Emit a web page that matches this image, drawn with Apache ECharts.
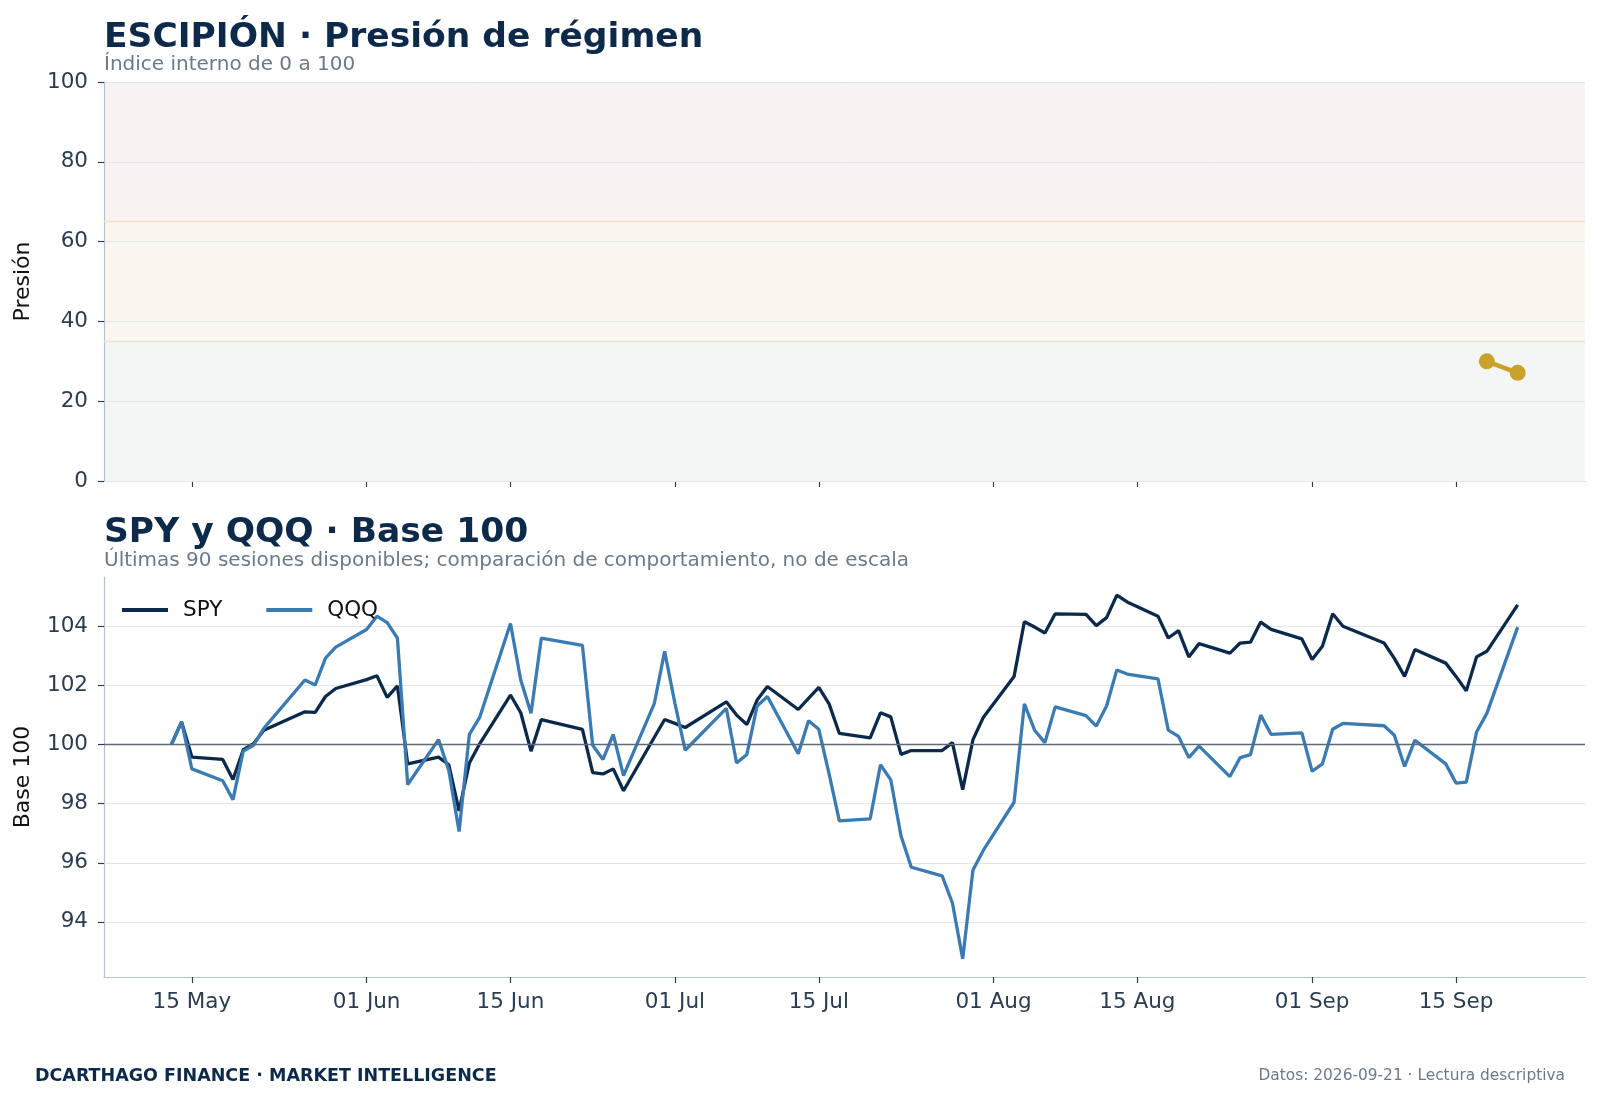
<!DOCTYPE html>
<html>
<head>
<meta charset="utf-8">
<title>ESCIPIÓN · Presión de régimen</title>
<script src="https://cdn.jsdelivr.net/npm/echarts@6/dist/echarts.min.js"></script>
<style>html,body{margin:0;padding:0;background:#fff}</style>
</head>
<body>
<div id="chart" style="width:1600px;height:1101px"></div>
<script>
// sesiones (90)
var sessions = [
  '2026-05-13','2026-05-14','2026-05-15','2026-05-18','2026-05-19','2026-05-20','2026-05-21','2026-05-22','2026-05-26','2026-05-27','2026-05-28','2026-05-29',
  '2026-06-01','2026-06-02','2026-06-03','2026-06-04','2026-06-05','2026-06-08','2026-06-09','2026-06-10','2026-06-11','2026-06-12','2026-06-15','2026-06-16','2026-06-17','2026-06-18','2026-06-22','2026-06-23','2026-06-24','2026-06-25','2026-06-26','2026-06-29','2026-06-30',
  '2026-07-01','2026-07-02','2026-07-06','2026-07-07','2026-07-08','2026-07-09','2026-07-10','2026-07-13','2026-07-14','2026-07-15','2026-07-16','2026-07-17','2026-07-20','2026-07-21','2026-07-22','2026-07-23','2026-07-24','2026-07-27','2026-07-28','2026-07-29','2026-07-30','2026-07-31',
  '2026-08-03','2026-08-04','2026-08-05','2026-08-06','2026-08-07','2026-08-10','2026-08-11','2026-08-12','2026-08-13','2026-08-14','2026-08-17','2026-08-18','2026-08-19','2026-08-20','2026-08-21','2026-08-24','2026-08-25','2026-08-26','2026-08-27','2026-08-28','2026-08-31',
  '2026-09-01','2026-09-02','2026-09-03','2026-09-04','2026-09-08','2026-09-09','2026-09-10','2026-09-11','2026-09-14','2026-09-15','2026-09-16','2026-09-17','2026-09-18','2026-09-21'
];

var spy = [
  100.00, 100.77, 99.58, 99.50, 98.82, 99.83, 100.03, 100.49, 101.11, 101.09, 101.63, 101.90,
  102.20, 102.33, 101.60, 101.99, 99.35, 99.58, 99.32, 97.76, 99.38, 100.03, 101.68, 101.08, 99.78, 100.85, 100.52, 99.05, 99.01, 99.18, 98.44, 100.25, 100.85,
  100.72, 100.58, 101.45, 101.00, 100.68, 101.51, 101.97, 101.19, 101.57, 101.94, 101.38, 100.38, 100.23, 101.08, 100.94, 99.67, 99.80, 99.80, 100.07, 98.48, 100.17, 100.92,
  102.31, 104.16, 103.98, 103.78, 104.43, 104.41, 104.03, 104.30, 105.06, 104.83, 104.35, 103.61, 103.86, 102.97, 103.42, 103.10, 103.44, 103.47, 104.15, 103.90, 103.58,
  102.88, 103.33, 104.43, 104.01, 103.44, 102.92, 102.31, 103.22, 102.76, 102.31, 101.82, 102.97, 103.16, 104.73
];

var qqq = [
  100.00, 100.77, 99.18, 98.78, 98.14, 99.78, 99.98, 100.55, 102.19, 102.02, 102.93, 103.30,
  103.90, 104.35, 104.13, 103.61, 98.65, 100.17, 99.13, 97.06, 100.35, 100.92, 104.10, 102.19, 101.06, 103.61, 103.36, 99.98, 99.50, 100.35, 98.95, 101.40, 103.16,
  101.40, 99.81, 101.23, 99.38, 99.67, 101.31, 101.63, 99.69, 100.81, 100.52, 99.01, 97.42, 97.49, 99.32, 98.81, 96.91, 95.85, 95.56, 94.64, 92.75, 95.76, 96.42,
  98.05, 101.38, 100.49, 100.07, 101.28, 100.98, 100.63, 101.31, 102.53, 102.39, 102.23, 100.49, 100.28, 99.56, 99.95, 98.92, 99.56, 99.66, 101.00, 100.35, 100.40,
  99.10, 99.35, 100.52, 100.72, 100.64, 100.32, 99.26, 100.15, 99.35, 98.70, 98.73, 100.43, 101.06, 103.98
];

// presión de régimen
var pressureDates = ['2026-09-18', '2026-09-21'];
var pressure = [30.0, 27.1];
var zoneLimits = [0, 35, 65, 100];

// ejes
var dateTicks = ['2026-05-15','2026-06-01','2026-06-15','2026-07-01','2026-07-15','2026-08-01','2026-08-15','2026-09-01','2026-09-15'];
var baseTicks = [94, 96, 98, 100, 102, 104];
var monthNames = ['Jan','Feb','Mar','Apr','May','Jun','Jul','Aug','Sep','Oct','Nov','Dec'];

var FONT = '"DejaVu Sans", sans-serif';
var NAVY = '#0d2a4b';
var TICK = '#2b3d52';
var AXIS = '#b5c1ce';
var GRID = '#e0e6ec';
var LBL = 21.5;

function utc(s) {
  var p = s.split('-');
  return Date.UTC(+p[0], +p[1] - 1, +p[2]);
}
function pad2(n) { return n < 10 ? '0' + n : '' + n; }
function fmtDate(v) {
  var d = new Date(v);
  return pad2(d.getUTCDate()) + ' ' + monthNames[d.getUTCMonth()];
}

var t0 = utc(sessions[0]), t1 = utc(sessions[sessions.length - 1]);
var xPad = (t1 - t0) * 0.05;
var allVals = spy.concat(qqq);
var vMin = Math.min.apply(null, allVals), vMax = Math.max.apply(null, allVals);
var yPad = (vMax - vMin) * 0.05;

var tickTimes = dateTicks.map(utc);
var spyData = sessions.map(function (d, i) { return [utc(d), spy[i]]; });
var qqqData = sessions.map(function (d, i) { return [utc(d), qqq[i]]; });
var pressureData = pressureDates.map(function (d, i) { return [utc(d), pressure[i]]; });

var zoneColors = ['#f3f6f5', '#faf7ee', '#f8f2f2'];
var zoneAreas = [];
for (var i = 0; i < zoneLimits.length - 1; i++) {
  zoneAreas.push([{ yAxis: zoneLimits[i], itemStyle: { color: zoneColors[i] } }, { yAxis: zoneLimits[i + 1] }]);
}

var chart = echarts.init(document.getElementById('chart'), null, { renderer: 'canvas' });

// eje de fechas como eje numérico (timestamps UTC) con marcas fijas
function xAxisCfg(idx, showLabels) {
  return {
    type: 'value', gridIndex: idx, scale: true,
    min: t0 - xPad, max: t1 + xPad,
    axisLine: { show: true, onZero: false, lineStyle: { color: AXIS, width: 1.2 } },
    axisTick: { show: true, length: 6, customValues: tickTimes, lineStyle: { color: TICK, width: 1.2 } },
    axisLabel: {
      show: showLabels, customValues: tickTimes, formatter: fmtDate,
      fontFamily: FONT, fontSize: LBL, color: TICK, margin: 14
    },
    splitLine: { show: false }
  };
}

var option = {
  animation: false,
  backgroundColor: '#ffffff',
  textStyle: { fontFamily: FONT },
  grid: [
    { left: 104, right: 15, top: 82, height: 399, outerBoundsMode: 'none' },
    { left: 104, right: 15, top: 577, height: 400, outerBoundsMode: 'none' }
  ],
  legend: {
    data: ['SPY', 'QQQ'],
    left: 117, top: 594,
    icon: 'rect', itemWidth: 46, itemHeight: 4, itemGap: 44,
    textStyle: { fontFamily: FONT, fontSize: LBL, color: '#111111', padding: [0, 0, 0, 10] }
  },
  xAxis: [xAxisCfg(0, false), xAxisCfg(1, true)],
  yAxis: [
    {
      type: 'value', gridIndex: 0, min: 0, max: 100, interval: 20, z: 3,
      name: 'Presión', nameLocation: 'middle', nameGap: 70,
      nameTextStyle: { fontFamily: FONT, fontSize: 22, color: '#111111' },
      axisLine: { show: true, lineStyle: { color: AXIS, width: 1.2 } },
      axisTick: { show: true, length: 6, lineStyle: { color: TICK, width: 1.2 } },
      axisLabel: { fontFamily: FONT, fontSize: LBL, color: TICK, margin: 16 },
      splitLine: { show: true, lineStyle: { color: GRID, width: 1 } }
    },
    {
      type: 'value', gridIndex: 1, min: vMin - yPad, max: vMax + yPad,
      name: 'Base 100', nameLocation: 'middle', nameGap: 70,
      nameTextStyle: { fontFamily: FONT, fontSize: 22, color: '#111111' },
      axisLine: { show: true, lineStyle: { color: AXIS, width: 1.2 } },
      axisTick: { show: true, length: 6, customValues: baseTicks, lineStyle: { color: TICK, width: 1.2 } },
      axisLabel: { customValues: baseTicks, fontFamily: FONT, fontSize: LBL, color: TICK, margin: 16 },
      splitLine: { show: true, lineStyle: { color: GRID, width: 1 } }
    }
  ],
  series: [
    {
      name: 'Presión', type: 'line', xAxisIndex: 0, yAxisIndex: 0, z: 5,
      data: pressureData,
      symbol: 'circle', symbolSize: 16, showSymbol: true,
      lineStyle: { color: '#c9a22c', width: 4.5 },
      itemStyle: { color: '#c9a22c' },
      markArea: { silent: true, data: zoneAreas },
      markLine: {
        silent: true, symbol: 'none', label: { show: false },
        lineStyle: { color: '#eee3d0', width: 1.3, type: 'solid' },
        data: [{ yAxis: zoneLimits[1] }, { yAxis: zoneLimits[2] }]
      }
    },
    {
      name: 'SPY', type: 'line', xAxisIndex: 1, yAxisIndex: 1,
      data: spyData, showSymbol: false, symbol: 'none',
      lineStyle: { color: '#0b2a4b', width: 3.3 }, itemStyle: { color: '#0b2a4b' },
      markLine: {
        silent: true, symbol: 'none', label: { show: false },
        lineStyle: { color: '#5d6a78', width: 1.3, type: 'solid' },
        data: [{ yAxis: 100 }]
      }
    },
    {
      name: 'QQQ', type: 'line', xAxisIndex: 1, yAxisIndex: 1,
      data: qqqData, showSymbol: false, symbol: 'none',
      lineStyle: { color: '#3b7bb4', width: 3.3 }, itemStyle: { color: '#3b7bb4' }
    }
  ],
  graphic: [
    { type: 'text', x: 104, y: 38, style: { text: 'ESCIPIÓN · Presión de régimen', font: 'bold 34.5px ' + FONT, fill: NAVY, verticalAlign: 'middle' } },
    { type: 'text', x: 104, y: 65, style: { text: 'Índice interno de 0 a 100', font: '20px ' + FONT, fill: '#6b7a8b', verticalAlign: 'middle' } },
    { type: 'text', x: 104, y: 533, style: { text: 'SPY y QQQ · Base 100', font: 'bold 34.5px ' + FONT, fill: NAVY, verticalAlign: 'middle' } },
    { type: 'text', x: 104, y: 561, style: { text: 'Últimas 90 sesiones disponibles; comparación de comportamiento, no de escala', font: '20px ' + FONT, fill: '#6b7a8b', verticalAlign: 'middle' } },
    { type: 'text', x: 35, y: 1076, style: { text: 'DCARTHAGO FINANCE · MARKET INTELLIGENCE', font: 'bold 17.5px ' + FONT, fill: NAVY, verticalAlign: 'middle' } },
    { type: 'text', x: 1565, y: 1076, style: { text: 'Datos: 2026-09-21 · Lectura descriptiva', font: '15.4px ' + FONT, fill: '#6b7a8b', align: 'right', verticalAlign: 'middle' } }
  ]
};

chart.setOption(option);
</script>
</body>
</html>
